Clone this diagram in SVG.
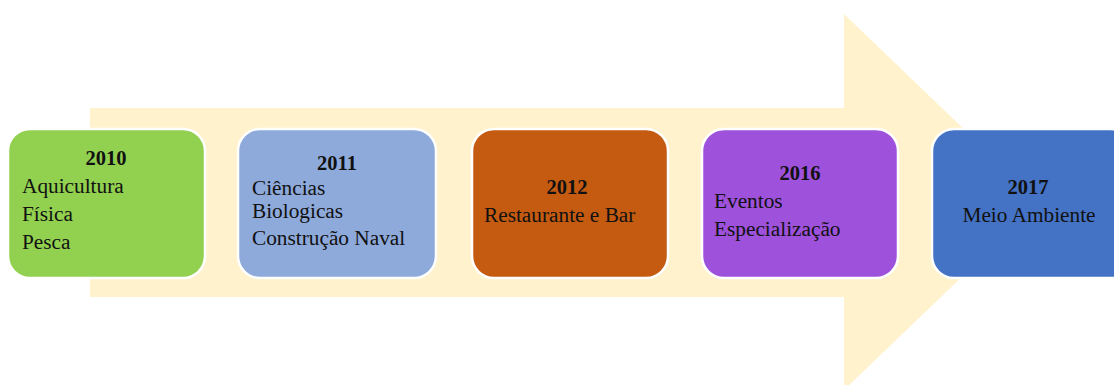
<svg xmlns="http://www.w3.org/2000/svg" width="1114" height="385" viewBox="0 0 1114 385">
<style>
.box{stroke:#ffffff;stroke-width:2.5}
text{font-family:"Liberation Serif","Times New Roman",serif;font-size:21.3px;fill:#111}
.yr{font-weight:bold;text-anchor:middle;font-size:20.5px}
.mid{text-anchor:middle}
</style>
<rect width="1114" height="385" fill="#ffffff"/>
<g id="arrow">
<polygon points="90,108 844,108 844,14 1040,202 844,390 844,297 90,297" fill="#fff2cc"/>
</g>
<g id="n2010">
<rect class="box" x="8" y="129" width="197" height="149" rx="22" fill="#92d050"/>
<text class="yr" x="106" y="165">2010</text>
<text x="22" y="193">Aquicultura</text>
<text x="22" y="221">Física</text>
<text x="22" y="249">Pesca</text>
</g>
<g id="n2011">
<rect class="box" x="238" y="129" width="198" height="149" rx="22" fill="#8eaadb"/>
<text class="yr" x="337" y="170">2011</text>
<text x="252" y="195">Ciências</text>
<text x="252" y="218">Biologicas</text>
<text x="252" y="245">Construção Naval</text>
</g>
<g id="n2012">
<rect class="box" x="472" y="129" width="196" height="149" rx="22" fill="#c55a11"/>
<text class="yr" x="567" y="194">2012</text>
<text x="484" y="222">Restaurante e Bar</text>
</g>
<g id="n2016">
<rect class="box" x="702" y="129" width="196" height="149" rx="22" fill="#9e52dc"/>
<text class="yr" x="800" y="180">2016</text>
<text x="714" y="208">Eventos</text>
<text x="714" y="236">Especialização</text>
</g>
<g id="n2017">
<rect class="box" x="932" y="129" width="200" height="149" rx="22" fill="#4472c4"/>
<text class="yr" x="1028" y="194">2017</text>
<text class="mid" x="1029" y="222">Meio Ambiente</text>
</g>
<g id="connectors"></g>
</svg>
